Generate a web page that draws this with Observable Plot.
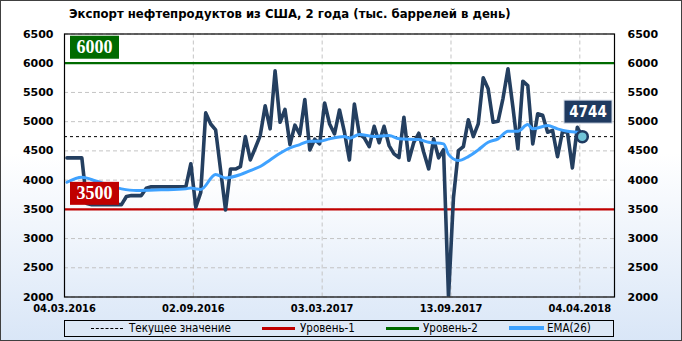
<!DOCTYPE html>
<html>
<head>
<meta charset="utf-8">
<script src="https://cdn.jsdelivr.net/npm/d3@7"></script>
<script src="https://cdn.jsdelivr.net/npm/@observablehq/plot@0.6"></script>
<style>
  body { margin: 0; background: #ffffff; }
  #chart {
    position: relative; width: 682px; height: 341px; overflow: hidden;
    background: linear-gradient(180deg, #ffffff 0%, #ffffff 45%, #d9e6f7 100%);
    box-shadow: inset 0 0 0 1px #404040;
    font-family: "DejaVu Sans", sans-serif;
  }
  #title {
    position: absolute; left: 69px; top: 6px; font-size: 13px; line-height: 16px;
    font-weight: bold; color: #000; white-space: nowrap;
    font-family: "DejaVu Sans Condensed", "DejaVu Sans", sans-serif; font-stretch: condensed;
  }
  #plotbg {
    position: absolute; left: 64px; top: 33.5px; width: 550px; height: 263px;
    background: linear-gradient(180deg, #ffffff 0%, #ffffff 55%, #e2ecf9 100%);
  }
  #plot { position: absolute; left: 0; top: 28px; }
  #legend {
    position: absolute; left: 64px; top: 320px; width: 550px; height: 17px;
    box-sizing: border-box; border: 1px solid #000; background: #dde8f6;
    font-size: 11.5px; font-family: "DejaVu Sans Condensed", "DejaVu Sans", sans-serif; font-stretch: condensed;
  }
  .sw { position: absolute; top: 7px; width: 33px; height: 0; }
  .lt { position: absolute; top: 0px; line-height: 15px; white-space: nowrap; color: #000; }
</style>
</head>
<body>
<div id="chart">
  <div id="title">Экспорт нефтепродуктов из США, 2 года (тыс. баррелей в день)</div>
  <div id="plotbg"></div>
  <div id="plot"></div>
  <div id="legend"></div>
</div>
<script>
// ---- data ----
const dateLabels = ["04.03.2016", "02.09.2016", "03.03.2017", "13.09.2017", "04.04.2018"];
const dateIndex = [0, 26, 52, 78, 104];
const exportsValues = [
  4380, 4380, 4380, 4380, 3600, 3580, 3580, 3580, 3580, 3580,
  3580, 3580, 3720, 3735, 3735, 3735, 3860, 3885, 3885, 3885,
  3885, 3885, 3885, 3885, 3890, 4280, 3535, 3790, 5150, 4960,
  4860, 4175, 3490, 4190, 4190, 4230, 4745, 4346, 4550, 4762,
  5270, 4877, 5870, 4990, 5210, 4608, 4940, 4780, 5380, 4517,
  4700, 4620, 5320, 4960, 4790, 5200, 4819, 4346, 5300, 4790,
  4723, 4574, 4920, 4640, 4920, 4591, 4449, 4385, 5076, 4340,
  4647, 4802, 4476, 4192, 4706, 4380, 4520, 2000, 3700, 4505,
  4574, 5031, 4745, 4962, 5750, 5562, 4990, 5007, 5400, 5904,
  5247, 4534, 5692, 5618, 4620, 5134, 5110, 4819, 4850, 4400,
  4830, 4819, 4209, 4904, 4744
];
const emaIndex = [0, 3, 6, 11, 14, 19, 24, 25, 26, 27, 30, 32, 35, 37, 39, 41, 43, 45, 47, 49,
  51, 53, 56, 57, 59, 62, 65, 67, 71, 73, 76, 77, 79, 81, 83, 85, 87, 89, 91, 93,
  94, 97, 99, 101, 103, 104];
const emaValues = [3963, 4048, 3980, 3850, 3821, 3833, 3850, 3867, 3850, 3840, 4095, 4038, 4095, 4163, 4232, 4346, 4459, 4552, 4608, 4665,
  4665, 4706, 4745, 4716, 4779, 4745, 4762, 4706, 4694, 4647, 4620, 4440, 4334, 4403, 4517, 4647, 4706, 4836, 4836, 4950,
  4877, 4933, 4877, 4836, 4819, 4815];
const yTicks = [2000, 2500, 3000, 3500, 4000, 4500, 5000, 5500, 6000, 6500];
const level1 = 3500;
const level2 = 6000;
const currentValue = 4744;
const legendNames = ["Текущее значение", "Уровень-1", "Уровень-2", "EMA(26)"];

// ---- derived ----
const series = exportsValues.map((v, i) => ({i, v}));
const ema = emaIndex.map((i, k) => ({i, v: emaValues[k]}));
const last = series[series.length - 1];
const boundaries = dateIndex.map(d => d - 0.5);

const NAVY = "#243f60", EMA_C = "#3fa2ff", RED = "#c00000", GREEN = "#006b00";

function levelLabel(value, fill) {
  return (index, scales, values, dims) => {
    const g = d3.create("svg:g");
    const y = scales.y(value);
    const x0 = dims.marginLeft + 6;
    g.append("rect").attr("x", x0).attr("y", y - 27).attr("width", 49).attr("height", 23).attr("fill", fill);
    g.append("text").attr("x", x0 + 24.5).attr("y", y - 15.5)
      .attr("text-anchor", "middle").attr("dominant-baseline", "central")
      .attr("fill", "#fff").attr("font-family", "Liberation Serif, serif")
      .attr("font-weight", "bold").attr("font-size", 18).text(String(value));
    return g.node();
  };
}
function lastLabel(index, scales, values, dims) {
  const g = d3.create("svg:g");
  const y = scales.y(last.v);
  const xr = dims.width - dims.marginRight - 2;
  g.append("rect").attr("x", xr - 48).attr("y", y - 36).attr("width", 48).attr("height", 23)
    .attr("fill", "#1f3a60").attr("stroke", "#d0d8e4").attr("stroke-width", 1);
  g.append("text").attr("x", xr - 24).attr("y", y - 24.5)
    .attr("text-anchor", "middle").attr("dominant-baseline", "central")
    .attr("fill", "#fff").attr("font-family", "DejaVu Sans Condensed, DejaVu Sans, sans-serif")
    .attr("font-stretch", "condensed")
    .attr("font-weight", "bold").attr("font-size", 15).text(String(last.v));
  return g.node();
}

const chart = Plot.plot({
  width: 682, height: 290,
  marginLeft: 64, marginRight: 68, marginTop: 5.5, marginBottom: 21.5,
  style: {background: "transparent", fontFamily: "DejaVu Sans, sans-serif", overflow: "visible"},
  x: {domain: [-0.5, 110.5], axis: null},
  y: {domain: [2000, 6500], axis: null},
  marks: [
    Plot.ruleY(yTicks, {stroke: "#c4c4c4", strokeDasharray: "4,3"}),
    Plot.ruleX(boundaries, {stroke: "#c4c4c4", strokeDasharray: "4,3"}),
    Plot.ruleY([currentValue], {stroke: "#000", strokeDasharray: "3,3", strokeWidth: 1}),
    Plot.ruleY([level1], {stroke: RED, strokeWidth: 2.2}),
    Plot.ruleY([level2], {stroke: GREEN, strokeWidth: 2.2}),
    Plot.line(series, {x: "i", y: "v", stroke: NAVY, strokeWidth: 3.6, strokeLinejoin: "round", clip: true}),
    Plot.line(ema, {x: "i", y: "v", stroke: EMA_C, strokeWidth: 3, curve: "monotone-x"}),
    Plot.frame({stroke: "#000", strokeWidth: 1.2}),
    Plot.dot([last], {x: "i", y: "v", r: 5.5, fill: "#70c4d8", stroke: "#1f3a60", strokeWidth: 2.5}),
    levelLabel(level2, GREEN),
    levelLabel(level1, RED),
    lastLabel,
    Plot.text(yTicks, {y: d => d, text: d => String(d), frameAnchor: "left", textAnchor: "end", dx: -11,
      fontWeight: "bold", fontSize: 11, fill: "#000"}),
    Plot.text(yTicks, {y: d => d, text: d => String(d), frameAnchor: "right", textAnchor: "start", dx: 13,
      fontWeight: "bold", fontSize: 11, fill: "#000"}),
    Plot.text(dateLabels, {x: (d, i) => boundaries[i], frameAnchor: "bottom", lineAnchor: "top", dy: 7,
      fontWeight: "bold", fontSize: 11, fill: "#000", fontFamily: "DejaVu Sans Condensed, DejaVu Sans, sans-serif"})
  ]
});
document.getElementById("plot").appendChild(chart);

// ---- legend ----
const legend = document.getElementById("legend");
const swatchStyles = [
  "border-top:1px dashed #000; top:7px; left:26px; width:32px;",
  "border-top:3px solid " + RED + "; top:6px; left:197px;",
  "border-top:3px solid " + GREEN + "; top:6px; left:321px;",
  "border-top:4px solid " + EMA_C + "; top:5px; left:444px; width:35px;"
];
const textLeft = [64, 235, 358, 482];
legendNames.forEach((name, k) => {
  const s = document.createElement("div");
  s.className = "sw"; s.setAttribute("style", swatchStyles[k]);
  legend.appendChild(s);
  const t = document.createElement("div");
  t.className = "lt"; t.style.left = textLeft[k] + "px"; t.textContent = name;
  legend.appendChild(t);
});
</script>
</body>
</html>
